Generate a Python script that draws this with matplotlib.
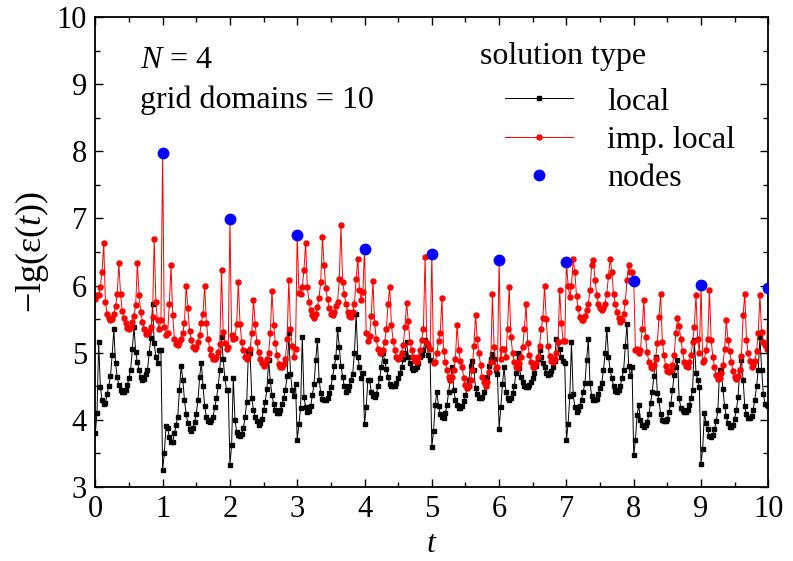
import matplotlib
matplotlib.use("Agg")
import matplotlib.pyplot as plt
import numpy as np

plt.rcParams['font.family'] = ['Liberation Serif', 'DejaVu Serif']
plt.rcParams['mathtext.fontset'] = 'custom'
plt.rcParams['mathtext.rm'] = 'Liberation Serif'
plt.rcParams['mathtext.it'] = 'Liberation Serif:italic'

# samples every 0.025 in t, one list per unit interval [k, k+1)
local_0 = [3.80, 4.10, 5.16, 4.49, 4.29, 4.24, 4.25, 4.39, 4.50, 4.65, 4.96, 5.35, 4.85, 4.64, 4.52, 4.44, 4.41, 4.42, 4.44, 4.52,
           4.62, 4.74, 5.05, 5.38, 5.01, 4.86, 4.74, 4.64, 4.60, 4.61, 4.69, 4.75, 4.99, 5.22, 5.72, 5.14, 4.94, 4.84, 5.04, 5.04]
local_1 = [3.25, 3.50, 3.91, 3.88, 3.74, 3.67, 3.67, 3.80, 3.92, 4.05, 4.45, 4.80, 4.60, 4.29, 4.09, 3.95, 3.87, 3.84, 3.88, 3.97,
           4.09, 4.29, 4.64, 4.85, 4.50, 4.20, 4.05, 3.99, 3.97, 4.00, 4.05, 4.19, 4.32, 4.50, 4.74, 5.24, 4.90, 4.62, 4.45, 4.44]
local_2 = [3.33, 3.62, 4.63, 4.00, 3.82, 3.78, 3.76, 3.79, 3.88, 4.04, 4.27, 5.03, 5.00, 4.32, 4.15, 4.05, 3.98, 3.92, 3.95, 4.02,
           4.14, 4.27, 4.46, 4.89, 4.58, 4.37, 4.24, 4.14, 4.10, 4.10, 4.14, 4.24, 4.33, 4.45, 4.65, 5.29, 4.69, 4.44, 4.35, 4.54]
local_3 = [3.70, 3.94, 4.17, 5.24, 4.34, 4.19, 4.12, 4.13, 4.20, 4.37, 4.54, 4.89, 5.19, 4.60, 4.40, 4.31, 4.29, 4.29, 4.33, 4.40,
           4.49, 4.64, 4.80, 4.94, 5.36, 5.08, 4.80, 4.64, 4.50, 4.42, 4.45, 4.50, 4.60, 4.69, 5.00, 5.58, 4.94, 4.79, 4.62, 4.70]
local_4 = [3.94, 4.19, 4.60, 4.60, 4.42, 4.35, 4.34, 4.38, 4.50, 4.62, 4.79, 4.99, 4.88, 4.76, 4.64, 4.54, 4.50, 4.50, 4.51, 4.55,
           4.62, 4.70, 4.78, 4.90, 5.00, 5.16, 4.94, 4.85, 4.77, 4.74, 4.76, 4.79, 4.84, 4.94, 4.96, 5.04, 5.19, 5.12, 4.96, 4.89]
local_5 = [3.60, 3.83, 4.22, 4.42, 4.20, 4.08, 4.04, 4.03, 4.10, 4.22, 4.42, 4.60, 4.79, 4.45, 4.30, 4.22, 4.18, 4.17, 4.20, 4.28,
           4.37, 4.47, 4.60, 4.80, 4.88, 4.75, 4.47, 4.39, 4.33, 4.32, 4.34, 4.42, 4.50, 4.64, 4.80, 4.90, 4.98, 4.90, 4.74, 4.69]
local_6 = [3.87, 4.19, 4.54, 4.79, 4.42, 4.32, 4.30, 4.33, 4.40, 4.50, 4.70, 4.99, 4.77, 4.64, 4.56, 4.50, 4.49, 4.49, 4.52, 4.57,
           4.63, 4.70, 4.80, 4.90, 5.04, 4.93, 4.85, 4.78, 4.70, 4.67, 4.68, 4.73, 4.79, 4.88, 5.21, 5.16, 5.05, 4.93, 4.88, 4.85]
local_7 = [3.70, 3.94, 4.35, 5.16, 4.38, 4.19, 4.12, 4.14, 4.20, 4.30, 4.42, 4.55, 4.89, 5.20, 4.55, 4.35, 4.30, 4.29, 4.31, 4.38,
           4.47, 4.55, 4.74, 4.99, 5.36, 4.94, 4.74, 4.62, 4.50, 4.43, 4.42, 4.45, 4.50, 4.62, 4.74, 5.10, 5.43, 4.80, 4.65, 4.78]
local_8 = [3.47, 3.70, 4.07, 4.22, 4.00, 3.92, 3.90, 3.92, 3.97, 4.08, 4.25, 4.42, 4.66, 4.94, 4.40, 4.29, 4.09, 4.00, 3.98, 3.98,
           4.02, 4.12, 4.24, 4.44, 4.67, 4.79, 4.89, 4.32, 4.18, 4.14, 4.12, 4.12, 4.15, 4.22, 4.32, 4.44, 5.19, 4.70, 4.60, 4.49]
local_9 = [3.35, 3.57, 4.10, 3.95, 3.86, 3.76, 3.74, 3.78, 3.86, 3.98, 4.14, 4.74, 4.74, 4.46, 4.20, 4.06, 3.95, 3.90, 3.90, 3.93,
           4.02, 4.14, 4.34, 4.74, 4.89, 4.60, 4.20, 4.08, 4.03, 4.03, 4.06, 4.15, 4.30, 4.50, 4.74, 5.24, 4.75, 4.39, 4.24, 4.22]
local_end = [4.20]

imp_0 = [5.80, 5.86, 5.86, 5.98, 6.20, 6.63, 5.75, 5.58, 5.51, 5.49, 5.50, 5.58, 5.69, 5.87, 6.33, 5.87, 5.62, 5.52, 5.44, 5.37,
         5.36, 5.39, 5.46, 5.55, 5.71, 6.33, 5.86, 5.60, 5.46, 5.36, 5.28, 5.28, 5.32, 5.38, 5.53, 6.70, 5.76, 5.48, 5.36, 5.48]
imp_1 = [7.97, 5.38, 5.26, 5.30, 5.73, 6.30, 5.56, 5.20, 5.13, 5.11, 5.16, 5.21, 5.30, 5.45, 6.00, 5.66, 5.33, 5.19, 5.09, 5.06,
         5.09, 5.16, 5.26, 5.45, 5.58, 6.00, 5.45, 5.21, 5.06, 4.96, 4.91, 4.91, 4.94, 5.01, 5.13, 6.23, 5.31, 5.14, 5.06, 5.09]
imp_2 = [6.99, 5.26, 5.20, 5.22, 5.43, 6.06, 5.43, 5.16, 5.04, 4.94, 4.91, 4.95, 5.06, 5.30, 5.79, 5.43, 5.16, 5.01, 4.90, 4.84,
         4.80, 4.84, 4.91, 4.99, 5.30, 5.92, 5.42, 5.14, 4.96, 4.83, 4.79, 4.78, 4.83, 4.91, 5.20, 6.09, 5.36, 5.10, 4.94, 5.06]
imp_3 = [6.76, 5.89, 5.88, 5.98, 6.23, 6.64, 5.98, 5.76, 5.63, 5.56, 5.52, 5.58, 5.68, 5.82, 6.06, 6.72, 6.30, 5.96, 5.80, 5.66,
         5.58, 5.56, 5.60, 5.70, 5.76, 6.10, 6.90, 6.05, 5.88, 5.72, 5.60, 5.55, 5.53, 5.60, 5.72, 6.10, 6.40, 5.94, 5.78, 5.90]
imp_4 = [6.55, 5.29, 5.18, 5.25, 5.55, 6.07, 5.44, 5.20, 5.06, 4.99, 4.99, 5.04, 5.16, 5.36, 5.73, 5.98, 5.41, 5.18, 5.04, 4.94,
         4.90, 4.93, 5.00, 5.12, 5.38, 5.74, 5.47, 5.16, 5.04, 4.94, 4.87, 4.86, 4.93, 5.04, 5.19, 5.35, 6.43, 5.14, 5.12, 5.06]
imp_5 = [6.47, 4.85, 4.86, 5.00, 5.18, 5.30, 5.81, 5.03, 4.86, 4.74, 4.64, 4.60, 4.64, 4.74, 4.90, 5.42, 5.04, 4.88, 4.78, 4.62,
         4.52, 4.48, 4.50, 4.60, 4.75, 5.10, 5.56, 5.20, 4.99, 4.82, 4.64, 4.56, 4.50, 4.56, 4.71, 4.86, 5.87, 5.09, 4.77, 4.79]
imp_6 = [6.38, 4.91, 5.06, 5.06, 4.94, 5.36, 5.98, 5.24, 5.00, 4.86, 4.79, 4.77, 4.84, 4.94, 5.09, 5.35, 5.72, 5.14, 4.96, 4.86,
         4.79, 4.78, 4.84, 4.94, 5.10, 5.36, 5.51, 6.00, 5.50, 5.10, 4.95, 4.88, 4.86, 4.90, 5.00, 5.16, 5.93, 5.44, 5.18, 5.17]
imp_7 = [6.35, 6.00, 5.83, 6.00, 6.39, 6.20, 5.84, 5.66, 5.53, 5.48, 5.48, 5.54, 5.63, 5.73, 5.93, 6.30, 6.38, 6.09, 5.86, 5.73,
         5.66, 5.64, 5.66, 5.73, 5.88, 6.15, 6.40, 6.20, 5.88, 5.73, 5.60, 5.51, 5.46, 5.48, 5.58, 5.76, 6.08, 6.30, 6.20, 6.20]
imp_8 = [6.07, 5.04, 5.06, 5.00, 5.04, 5.36, 5.78, 5.24, 5.01, 4.86, 4.79, 4.77, 4.81, 4.91, 5.14, 5.53, 5.87, 5.16, 4.96, 4.80,
         4.73, 4.71, 4.75, 4.82, 4.96, 5.29, 5.51, 5.40, 5.20, 5.03, 4.86, 4.80, 4.79, 4.86, 4.96, 5.16, 5.38, 5.86, 5.20, 5.00]
imp_9 = [6.01, 4.86, 4.89, 5.04, 5.20, 5.93, 5.19, 4.94, 4.79, 4.67, 4.61, 4.62, 4.70, 4.81, 5.06, 5.48, 5.19, 5.02, 4.86, 4.73,
         4.64, 4.61, 4.66, 4.74, 4.95, 5.56, 5.88, 5.19, 5.00, 4.88, 4.79, 4.81, 4.88, 5.03, 5.30, 5.86, 5.31, 5.16, 5.12, 5.06]
imp_end = [5.97]

node_t = [1, 2, 3, 4, 5, 6, 7, 8, 9, 10]
node_v = [7.97, 6.99, 6.76, 6.55, 6.47, 6.38, 6.35, 6.07, 6.01, 5.97]

local = (local_0 + local_1 + local_2 + local_3 + local_4 + local_5 + local_6 + local_7 + local_8 + local_9 + local_end)
imp = (imp_0 + imp_1 + imp_2 + imp_3 + imp_4 + imp_5 + imp_6 + imp_7 + imp_8 + imp_9 + imp_end)
t = np.arange(len(local)) * 0.025

fig = plt.figure(figsize=(7.93, 5.61), dpi=100)
ax = fig.add_axes([0.1202, 0.1319, 0.8487, 0.8378])

ax.plot(t, local, color='black', lw=0.7, marker='s', ms=3.0, mec='black', mfc='black', label='local')
ax.plot(t, imp, color='red', lw=0.7, marker='o', ms=3.6, mec='red', mfc='red', label='imp. local')
ax.plot(node_t, node_v, ls='none', marker='o', ms=7.5, color='blue', label='nodes', zorder=5)

ax.set_xlim(0, 10)
ax.set_ylim(3, 10)
ax.set_xticks(range(0, 11))
ax.set_yticks(range(3, 11))
ax.set_xticks(np.arange(0.5, 10, 1), minor=True)
ax.set_yticks(np.arange(3.5, 10, 1), minor=True)
ax.tick_params(which='both', direction='in', top=True, right=True, labelsize=22, width=1.0)
ax.tick_params(which='major', length=6, pad=6)
ax.tick_params(which='minor', length=3.5)
for s in ax.spines.values():
    s.set_linewidth(1.3)

ax.set_xlabel(r'$t$', fontsize=23, labelpad=4)
ax.set_ylabel(r'$-\mathrm{lg}(\mathrm{ε}(t))$', fontsize=26, labelpad=4)

ax.text(0.066, 0.9085, r'$N$ = 4', transform=ax.transAxes, fontsize=23, va='center')
ax.text(0.066, 0.823, 'grid domains = 10', transform=ax.transAxes, fontsize=23, va='center')
ax.text(0.5716, 0.915, 'solution type', transform=ax.transAxes, fontsize=23, va='center')

leg = ax.legend(loc='upper left', bbox_to_anchor=(0.6088, 0.8506), frameon=False, fontsize=23,
                handlelength=2.13, handletextpad=1.07, labelspacing=0.28, borderpad=0, borderaxespad=0,
                markerscale=1.0)

fig.savefig('out.png', dpi=100)
